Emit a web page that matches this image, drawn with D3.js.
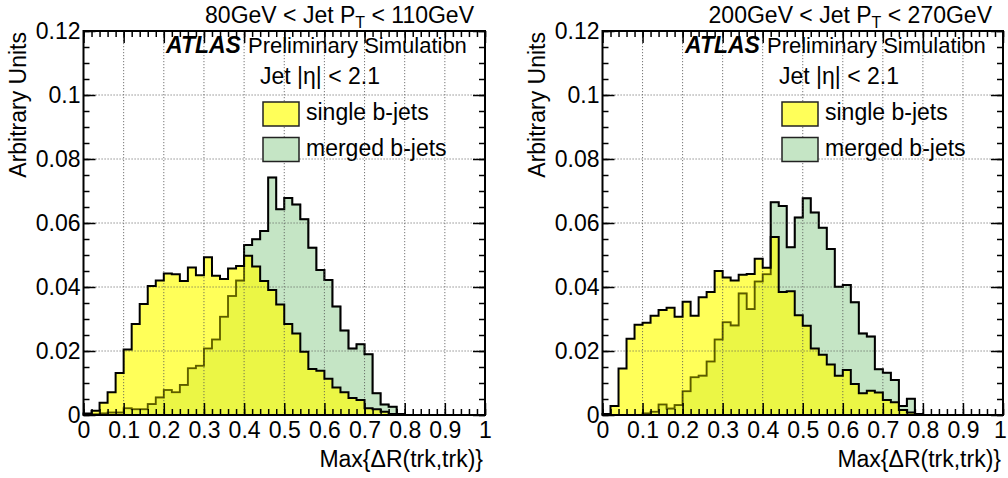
<!DOCTYPE html>
<html>
<head>
<meta charset="utf-8">
<script src="https://cdn.jsdelivr.net/npm/d3@7"></script>
<style>
  html, body { margin: 0; padding: 0; background: #fff; }
  svg { display: block; font-family: "Liberation Sans", Arial, Helvetica, sans-serif; }
</style>
</head>
<body>
<svg id="chart" width="1008" height="478"></svg>
<script>
// ---- Max{ΔR(trk,trk)} distributions: 50 bins of width 0.02 on [0, 1] ----
const binWidth = 0.02;
const xTickValues = [0, 0.1, 0.2, 0.3, 0.4, 0.5, 0.6, 0.7, 0.8, 0.9, 1];
const xTickLabels = ["0", "0.1", "0.2", "0.3", "0.4", "0.5", "0.6", "0.7", "0.8", "0.9", "1"];
const yTickValues = [0, 0.02, 0.04, 0.06, 0.08, 0.1, 0.12];
const yTickLabels = ["0", "0.02", "0.04", "0.06", "0.08", "0.1", "0.12"];

const ptLowEdges  = ["80GeV", "200GeV"];
const ptHighEdges = ["110GeV", "270GeV"];
const seriesNames = ["single b-jets", "merged b-jets"];

// 80 < pT < 110 GeV
const singleLowPt = [
  0.0005, 0.0013, 0.0038, 0.0071, 0.0131, 0.0205, 0.0284, 0.0347, 0.0403, 0.0420,
  0.0442, 0.0440, 0.0419, 0.0461, 0.0437, 0.0493, 0.0435, 0.0425, 0.0458, 0.0466,
  0.0498, 0.0464, 0.0419, 0.0391, 0.0345, 0.0284, 0.0255, 0.0198, 0.0144, 0.0138,
  0.0113, 0.0086, 0.0071, 0.0053, 0.0047, 0.0021, 0.0018, 0.0010, 0.0003, 0.0001,
  0, 0, 0, 0, 0, 0, 0, 0, 0, 0
];
const mergedLowPt = [
  0.0000, 0.0002, 0.0005, 0.0008, 0.0008, 0.0021, 0.0018, 0.0018, 0.0034, 0.0055,
  0.0078, 0.0071, 0.0094, 0.0146, 0.0154, 0.0208, 0.0236, 0.0307, 0.0372, 0.0420,
  0.0531, 0.0549, 0.0575, 0.0742, 0.0643, 0.0678, 0.0658, 0.0612, 0.0523, 0.0453,
  0.0422, 0.0339, 0.0264, 0.0208, 0.0221, 0.0190, 0.0068, 0.0033, 0.0026, 0.0003,
  0, 0, 0, 0, 0, 0, 0, 0, 0, 0
];

// 200 < pT < 270 GeV
const singleHighPt = [
  0.0003, 0.0028, 0.0145, 0.0238, 0.0282, 0.0288, 0.0310, 0.0328, 0.0335, 0.0307,
  0.0354, 0.0310, 0.0368, 0.0384, 0.0450, 0.0430, 0.0420, 0.0438, 0.0441, 0.0488,
  0.0460, 0.0556, 0.0384, 0.0387, 0.0312, 0.0279, 0.0208, 0.0188, 0.0158, 0.0123,
  0.0141, 0.0097, 0.0068, 0.0076, 0.0070, 0.0047, 0.0040, 0.0016, 0.0008, 0.0002,
  0, 0, 0, 0, 0, 0, 0, 0, 0, 0
];
const mergedHighPt = [
  0.0000, 0.0000, 0.0000, 0.0000, 0.0000, 0.0005, 0.0010, 0.0033, 0.0020, 0.0031,
  0.0074, 0.0118, 0.0123, 0.0167, 0.0236, 0.0290, 0.0280, 0.0380, 0.0331, 0.0417,
  0.0440, 0.0665, 0.0653, 0.0524, 0.0617, 0.0677, 0.0633, 0.0585, 0.0519, 0.0401,
  0.0406, 0.0352, 0.0255, 0.0245, 0.0143, 0.0132, 0.0109, 0.0028, 0.0051, 0.0003,
  0, 0, 0, 0, 0, 0, 0, 0, 0, 0
];

// ---- layout & style ----
const FONT = 23;
const colors = {
  singleFill: "rgb(255,255,0)",
  singleOpacity: 0.65,
  singleSwatch: "rgb(255,255,89)",
  mergedFill: "rgb(197,229,197)",
  line: "#000",
  grid: "#555"
};

const panels = [
  { frame: { x0: 83.5, x1: 485, y0: 31, y1: 415 }, single: singleLowPt, merged: mergedLowPt, pt: 0 },
  { frame: { x0: 602.5, x1: 1003, y0: 31, y1: 415 }, single: singleHighPt, merged: mergedHighPt, pt: 1 }
];

const svg = d3.select("#chart");

function stepPoints(values, x, y) {
  const pts = [[x(0), y(0)]];
  values.forEach((v, i) => {
    pts.push([x(i * binWidth), y(v)]);
    pts.push([x((i + 1) * binWidth), y(v)]);
  });
  pts.push([x(values.length * binWidth), y(0)]);
  return pts;
}

panels.forEach((p, pi) => {
  const f = p.frame;
  const x = d3.scaleLinear().domain([0, 1]).range([f.x0, f.x1]);
  const y = d3.scaleLinear().domain([0, 0.12]).range([f.y1, f.y0]);
  const g = svg.append("g");
  const line = d3.line();

  const mergedPts = stepPoints(p.merged, x, y);
  const singlePts = stepPoints(p.single, x, y);

  // merged b-jets: filled, outlined
  g.append("path").attr("d", line(mergedPts) + "Z")
    .attr("fill", colors.mergedFill).attr("stroke", "none");
  g.append("path").attr("d", line(mergedPts))
    .attr("fill", "none").attr("stroke", colors.line).attr("stroke-width", 2);

  // single b-jets on top, translucent
  g.append("path").attr("d", line(singlePts) + "Z")
    .attr("fill", colors.singleFill).attr("fill-opacity", colors.singleOpacity).attr("stroke", "none");

  // dotted grid at major ticks
  const grid = g.append("g").attr("stroke", colors.grid).attr("stroke-width", 1)
    .attr("stroke-dasharray", "1.2,1.8").attr("opacity", 0.8);
  xTickValues.slice(1, -1).forEach(v => {
    grid.append("line").attr("x1", x(v)).attr("x2", x(v)).attr("y1", f.y0).attr("y2", f.y1);
  });
  yTickValues.slice(1, -1).forEach(v => {
    grid.append("line").attr("x1", f.x0).attr("x2", f.x1).attr("y1", y(v)).attr("y2", y(v));
  });

  // merged outline seen through the single fill
  g.append("path").attr("d", line(mergedPts))
    .attr("fill", "none").attr("stroke", colors.line).attr("stroke-width", 1.6).attr("stroke-opacity", 0.45);
  // single outline
  g.append("path").attr("d", line(singlePts))
    .attr("fill", "none").attr("stroke", colors.line).attr("stroke-width", 2);

  // axes (ticks pointing inward, mirrored on top/right)
  const minorX = d3.range(0, 51).map(i => i * binWidth);
  const minorY = d3.range(0, 25).map(i => i * 0.005);

  function styleAxis(sel) {
    sel.select(".domain").remove();
    sel.selectAll(".tick line").attr("stroke", "#000").attr("stroke-width", 1.5);
    sel.selectAll("text").attr("font-size", FONT).attr("fill", "#000")
      .attr("font-family", '"Liberation Sans", Arial, Helvetica, sans-serif');
  }

  g.append("g").attr("transform", `translate(0,${f.y1})`)
    .call(d3.axisBottom(x).tickValues(minorX).tickFormat("").tickSizeInner(-6).tickSizeOuter(0)).call(styleAxis);
  const xAxis = g.append("g").attr("transform", `translate(0,${f.y1})`)
    .call(d3.axisBottom(x).tickValues(xTickValues).tickFormat((d, i) => xTickLabels[i])
      .tickSizeInner(-12).tickSizeOuter(0).tickPadding(7)).call(styleAxis);
  // keep the last label inside the canvas on the right-hand panel
  if (pi === panels.length - 1) {
    xAxis.selectAll(".tick text").filter(d => d === 1).attr("dx", -3);
  }
  g.append("g").attr("transform", `translate(0,${f.y0})`)
    .call(d3.axisTop(x).tickValues(minorX).tickFormat("").tickSizeInner(-6).tickSizeOuter(0)).call(styleAxis);
  g.append("g").attr("transform", `translate(0,${f.y0})`)
    .call(d3.axisTop(x).tickValues(xTickValues).tickFormat("").tickSizeInner(-12).tickSizeOuter(0)).call(styleAxis);

  g.append("g").attr("transform", `translate(${f.x0},0)`)
    .call(d3.axisLeft(y).tickValues(minorY).tickFormat("").tickSizeInner(-6).tickSizeOuter(0)).call(styleAxis);
  g.append("g").attr("transform", `translate(${f.x0},0)`)
    .call(d3.axisLeft(y).tickValues(yTickValues).tickFormat((d, i) => yTickLabels[i])
      .tickSizeInner(-12).tickSizeOuter(0).tickPadding(3)).call(styleAxis);
  g.append("g").attr("transform", `translate(${f.x1},0)`)
    .call(d3.axisRight(y).tickValues(minorY).tickFormat("").tickSizeInner(-6).tickSizeOuter(0)).call(styleAxis);
  g.append("g").attr("transform", `translate(${f.x1},0)`)
    .call(d3.axisRight(y).tickValues(yTickValues).tickFormat("").tickSizeInner(-12).tickSizeOuter(0)).call(styleAxis);

  // frame
  g.append("rect").attr("x", f.x0).attr("y", f.y0)
    .attr("width", f.x1 - f.x0).attr("height", f.y1 - f.y0)
    .attr("fill", "none").attr("stroke", "#000").attr("stroke-width", 2);

  // axis titles
  g.append("text").attr("x", f.x1 - 2).attr("y", 467).attr("text-anchor", "end")
    .attr("font-size", FONT).text("Max{ΔR(trk,trk)}");
  g.append("text").attr("transform", `translate(${f.x0 - 58},${f.y0 + 1}) rotate(-90)`)
    .attr("text-anchor", "end").attr("font-size", FONT).text("Arbitrary Units");

  // pT range label above the frame
  const ptText = g.append("text").attr("x", f.x1 - 11).attr("y", 23)
    .attr("text-anchor", "end").attr("font-size", FONT);
  ptText.append("tspan").text(`${ptLowEdges[p.pt]} < Jet P`);
  ptText.append("tspan").attr("font-size", 16).attr("dy", 5).text("T");
  ptText.append("tspan").attr("dy", -5).text(` < ${ptHighEdges[p.pt]}`);

  // ATLAS label
  const ax = f.x0 + 82.5;
  g.append("text").attr("x", ax).attr("y", 53).attr("font-size", FONT)
    .attr("font-weight", "bold").attr("font-style", "italic").text("ATLAS");
  g.append("text").attr("x", ax + 82).attr("y", 53).attr("font-size", 22).text("Preliminary Simulation");
  g.append("text").attr("x", f.x0 + 176.5).attr("y", 84).attr("font-size", FONT).text("Jet |η| < 2.1");

  // legend
  const lx = f.x0 + 179.5;
  const legend = [
    { name: seriesNames[0], fill: colors.singleSwatch, top: 102 },
    { name: seriesNames[1], fill: colors.mergedFill, top: 137.5 }
  ];
  legend.forEach(d => {
    g.append("rect").attr("x", lx).attr("y", d.top).attr("width", 36).attr("height", 24)
      .attr("fill", d.fill).attr("stroke", "#222").attr("stroke-width", 1.5);
    g.append("text").attr("x", lx + 43).attr("y", d.top + 18).attr("font-size", FONT).text(d.name);
  });
});
</script>
</body>
</html>
